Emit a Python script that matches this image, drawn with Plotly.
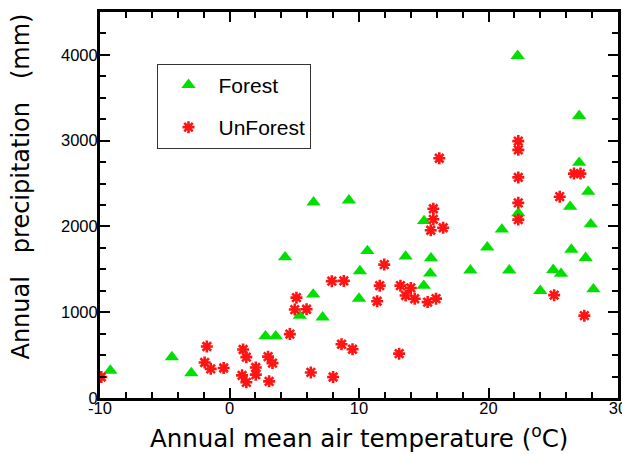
import plotly.graph_objects as go

# ---- data ----
forest_temp = [-9.2, -4.45, -2.95, 2.78, 3.57, 4.29, 5.43, 6.46, 7.19, 6.49, 9.22,
               10.07, 10.0, 10.65, 13.6, 15.56, 15.5, 15.0, 15.02, 18.6, 19.9, 21.6,
               21.03, 22.3, 22.25, 24.0, 25.0, 25.6, 26.4, 27.5, 28.1, 27.9, 27.7,
               26.3, 27.0, 27.0]
forest_prec = [320, 477, 290, 720, 720, 1642, 960, 1208, 940, 2281, 2304,
               1480, 1160, 1715, 1650, 1630, 1452, 1310, 2064, 1488, 1757, 1488,
               1965, 2155, 3990, 1249, 1495, 1449, 1731, 1634, 1268, 2027, 2405,
               2231, 2743, 3290]

unforest_temp = [-9.9, -1.75, -1.92, -1.45, -0.45, 1.05, 1.3, 2.03, 2.03, 0.97, 1.3,
                 2.98, 3.32, 3.06, 4.66, 5.17, 5.04, 5.95, 6.28, 7.9, 8.83, 8.0,
                 8.65, 9.5, 11.95, 11.6, 11.4, 13.2, 14.0, 13.6, 14.3, 15.3, 15.95,
                 13.1, 16.2, 15.74, 15.74, 15.54, 16.5, 22.3, 22.3, 22.3, 22.3, 22.3,
                 25.5, 26.6, 27.1, 25.07, 27.4]
unforest_prec = [245, 600, 414, 340, 350, 565, 476, 356, 272, 264, 183,
                 482, 407, 194, 745, 1170, 1031, 1035, 298, 1362, 1365, 245,
                 627, 568, 1555, 1310, 1128, 1310, 1283, 1195, 1157, 1118, 1158,
                 517, 2795, 2206, 2083, 1956, 1985, 2995, 2893, 2572, 2275, 2080,
                 2347, 2616, 2616, 1199, 960]

x_tick_vals = [-10, 0, 10, 20, 30]
x_tick_labels = ["-10", "0", "10", "20", "30"]
y_tick_vals = [0, 1000, 2000, 3000, 4000]
y_tick_labels = ["0", "1000", "2000", "3000", "4000"]

GREEN = "#00e000"
RED = "#ff1414"
TICKFONT = dict(family="Liberation Sans, Arial, sans-serif", size=16.5, color="black")

fig = go.Figure()
fig.add_trace(go.Scatter(
    x=forest_temp, y=forest_prec, mode="markers", name="Forest",
    legendgroup="a",
    marker=dict(symbol="triangle-up", size=12.5, color=GREEN, line=dict(width=0)),
))
fig.add_trace(go.Scatter(
    x=unforest_temp, y=unforest_prec, mode="markers", name="UnForest",
    legendgroup="b",
    marker=dict(symbol="asterisk-open", size=10, color=RED,
                line=dict(width=2.6, color=RED)),
))

axis_common = dict(
    showline=True, linecolor="black", linewidth=3, mirror="allticks",
    ticks="inside", ticklen=10, tickwidth=2, tickcolor="black",
    showgrid=False, zeroline=False, tickfont=TICKFONT,
)

fig.update_xaxes(
    range=[-10, 30], tickvals=x_tick_vals, ticktext=x_tick_labels,
    ticklabelstandoff=-7,
    minor=dict(dtick=2, tick0=0, ticks="inside", ticklen=6, tickwidth=2,
               tickcolor="black", showgrid=False),
    **axis_common,
)
fig.update_yaxes(
    range=[0, 4500], tickvals=y_tick_vals, ticktext=y_tick_labels,
    ticklabelstandoff=-4,
    minor=dict(dtick=250, tick0=0, ticks="inside", ticklen=6, tickwidth=2,
               tickcolor="black", showgrid=False),
    **axis_common,
)

TITLEFONT = dict(family="DejaVu Sans, Arial, sans-serif", color="black")
fig.add_annotation(
    text="Annual mean air temperature (<sup>o</sup>C)",
    xref="paper", yref="paper", x=0.5, y=-0.1003,
    xanchor="center", yanchor="middle", showarrow=False,
    font=dict(size=24.5, **TITLEFONT),
)
fig.add_annotation(
    text="Annual\u00a0\u00a0 precipitation\u00a0\u00a0 (mm)",
    xref="paper", yref="paper", x=-0.1517, y=0.549,
    xanchor="center", yanchor="middle", showarrow=False, textangle=-90,
    font=dict(size=24, **TITLEFONT),
)

# page body adds an 8px offset, so the figure is drawn 8px smaller
fig.update_layout(
    width=622, height=446,
    margin=dict(l=92, r=12, t=1, b=56),
    paper_bgcolor="white", plot_bgcolor="white",
    showlegend=True,
    legend=dict(
        x=0.111, y=0.866, xanchor="left", yanchor="top",
        bgcolor="white", bordercolor="#333333", borderwidth=1,
        font=dict(family="Liberation Sans, Arial, sans-serif", size=21, color="black"),
        itemwidth=50, traceorder="grouped", tracegroupgap=12,
    ),
)

fig.write_html("out.html")
